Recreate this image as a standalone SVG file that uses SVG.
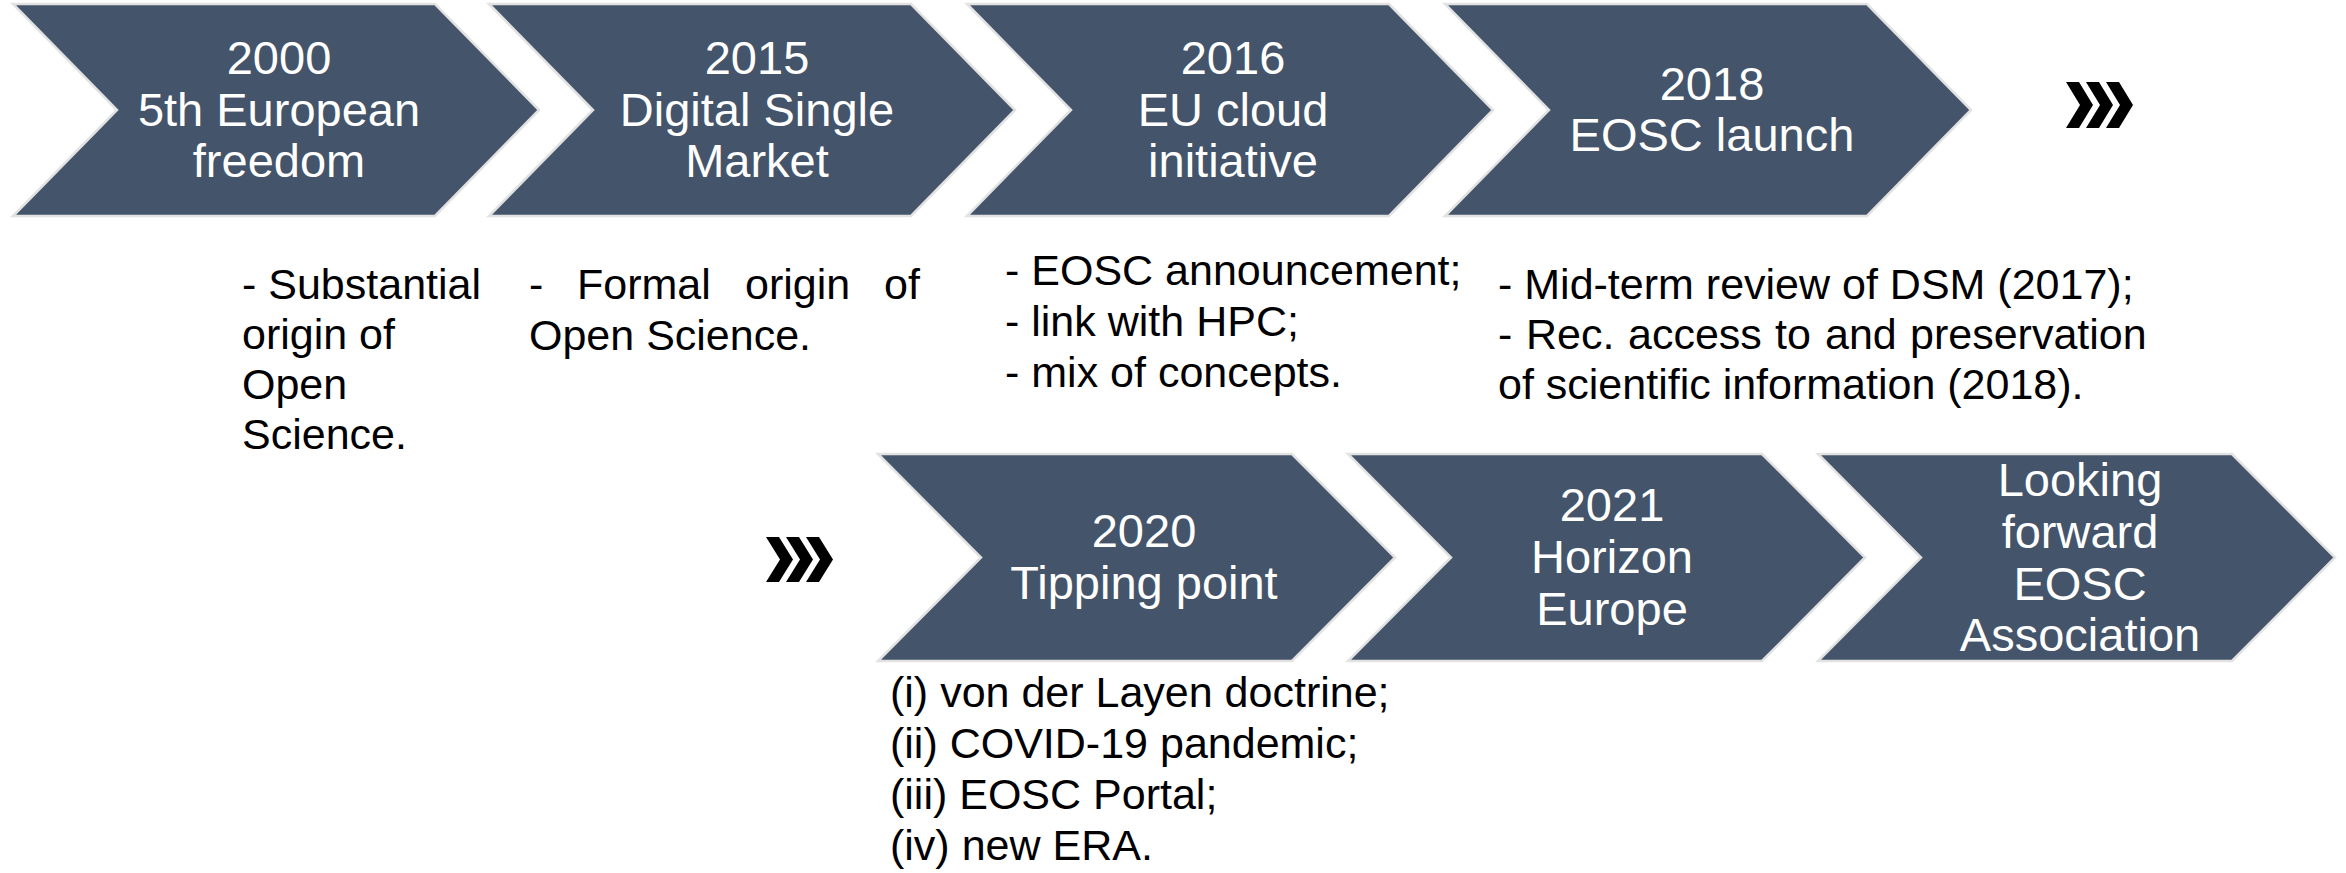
<svg xmlns="http://www.w3.org/2000/svg" width="2346" height="873" viewBox="0 0 2346 873">
<style>
.chev{fill:#44546A;stroke:#E2E2E2;stroke-width:2.5;stroke-linejoin:miter}
.ct{font-family:"Liberation Sans",Arial,sans-serif;font-size:47px;fill:#FFFFFF;text-anchor:middle}
.bt{font-family:"Liberation Sans",Arial,sans-serif;font-size:43px;fill:#000000}
.mk{fill:#000000}
</style>
<rect width="2346" height="873" fill="#FFFFFF"/>
<g id="n2000">
<polygon class="chev" points="13,4 435,4 539,110 435,216 13,216 117,110"/>
<text class="ct"><tspan x="279" y="74">2000</tspan><tspan x="279" y="125.5">5th European</tspan><tspan x="279" y="177">freedom</tspan></text>
<text class="bt"><tspan x="242" y="299">- Substantial</tspan><tspan x="242" y="349">origin of</tspan><tspan x="242" y="399">Open</tspan><tspan x="242" y="449">Science.</tspan></text>
</g>
<g id="n2015">
<polygon class="chev" points="489,4 911,4 1015,110 911,216 489,216 593,110"/>
<text class="ct"><tspan x="757" y="74">2015</tspan><tspan x="757" y="125.5">Digital Single</tspan><tspan x="757" y="177">Market</tspan></text>
<text class="bt"><tspan x="529" y="299">-</tspan><tspan x="577" y="299">Formal</tspan><tspan x="745" y="299">origin</tspan><tspan x="884" y="299">of</tspan><tspan x="529" y="350">Open Science.</tspan></text>
</g>
<g id="n2016">
<polygon class="chev" points="967,4 1389,4 1493,110 1389,216 967,216 1071,110"/>
<text class="ct"><tspan x="1233" y="74">2016</tspan><tspan x="1233" y="125.5">EU cloud</tspan><tspan x="1233" y="177">initiative</tspan></text>
<text class="bt"><tspan x="1005" y="285">- EOSC announcement;</tspan><tspan x="1005" y="336">- link with HPC;</tspan><tspan x="1005" y="387">- mix of concepts.</tspan></text>
</g>
<g id="n2018">
<polygon class="chev" points="1445,4 1867,4 1971,110 1867,216 1445,216 1549,110"/>
<text class="ct"><tspan x="1712" y="100">2018</tspan><tspan x="1712" y="151">EOSC launch</tspan></text>
<text class="bt"><tspan x="1498" y="299">- Mid-term review of DSM (2017);</tspan><tspan x="1498" y="349">-</tspan><tspan x="1526" y="349">Rec.</tspan><tspan x="1628" y="349">access</tspan><tspan x="1775" y="349">to</tspan><tspan x="1825" y="349">and</tspan><tspan x="1910" y="349">preservation</tspan><tspan x="1498" y="399">of scientific information (2018).</tspan></text>
</g>
<g id="more1">
<polygon class="mk" points="2066,82 2079,82 2093,105 2079,128 2066,128 2080,105"/>
<polygon class="mk" points="2086,82 2099,82 2113,105 2099,128 2086,128 2100,105"/>
<polygon class="mk" points="2106,82 2119,82 2133,105 2119,128 2106,128 2120,105"/>
</g>
<g id="more2">
<polygon class="mk" points="766,537 779,537 793,559.5 779,582 766,582 780,559.5"/>
<polygon class="mk" points="786,537 799,537 813,559.5 799,582 786,582 800,559.5"/>
<polygon class="mk" points="806,537 819,537 833,559.5 819,582 806,582 820,559.5"/>
</g>
<g id="n2020">
<polygon class="chev" points="878,454 1292,454 1395,557.5 1292,661 878,661 981,557.5"/>
<text class="ct"><tspan x="1144" y="547">2020</tspan><tspan x="1144" y="599">Tipping point</tspan></text>
<text class="bt"><tspan x="890" y="707">(i) von der Layen doctrine;</tspan><tspan x="890" y="758">(ii) COVID-19 pandemic;</tspan><tspan x="890" y="809">(iii) EOSC Portal;</tspan><tspan x="890" y="860">(iv) new ERA.</tspan></text>
</g>
<g id="n2021">
<polygon class="chev" points="1348,454 1762,454 1865,557.5 1762,661 1348,661 1451,557.5"/>
<text class="ct"><tspan x="1612" y="521">2021</tspan><tspan x="1612" y="573">Horizon</tspan><tspan x="1612" y="625">Europe</tspan></text>
</g>
<g id="nfuture">
<polygon class="chev" points="1818,454 2232,454 2335,557.5 2232,661 1818,661 1921,557.5"/>
<text class="ct"><tspan x="2080" y="496">Looking</tspan><tspan x="2080" y="548">forward</tspan><tspan x="2080" y="599.5">EOSC</tspan><tspan x="2080" y="651">Association</tspan></text>
</g>
<g id="connectors"></g>
</svg>
